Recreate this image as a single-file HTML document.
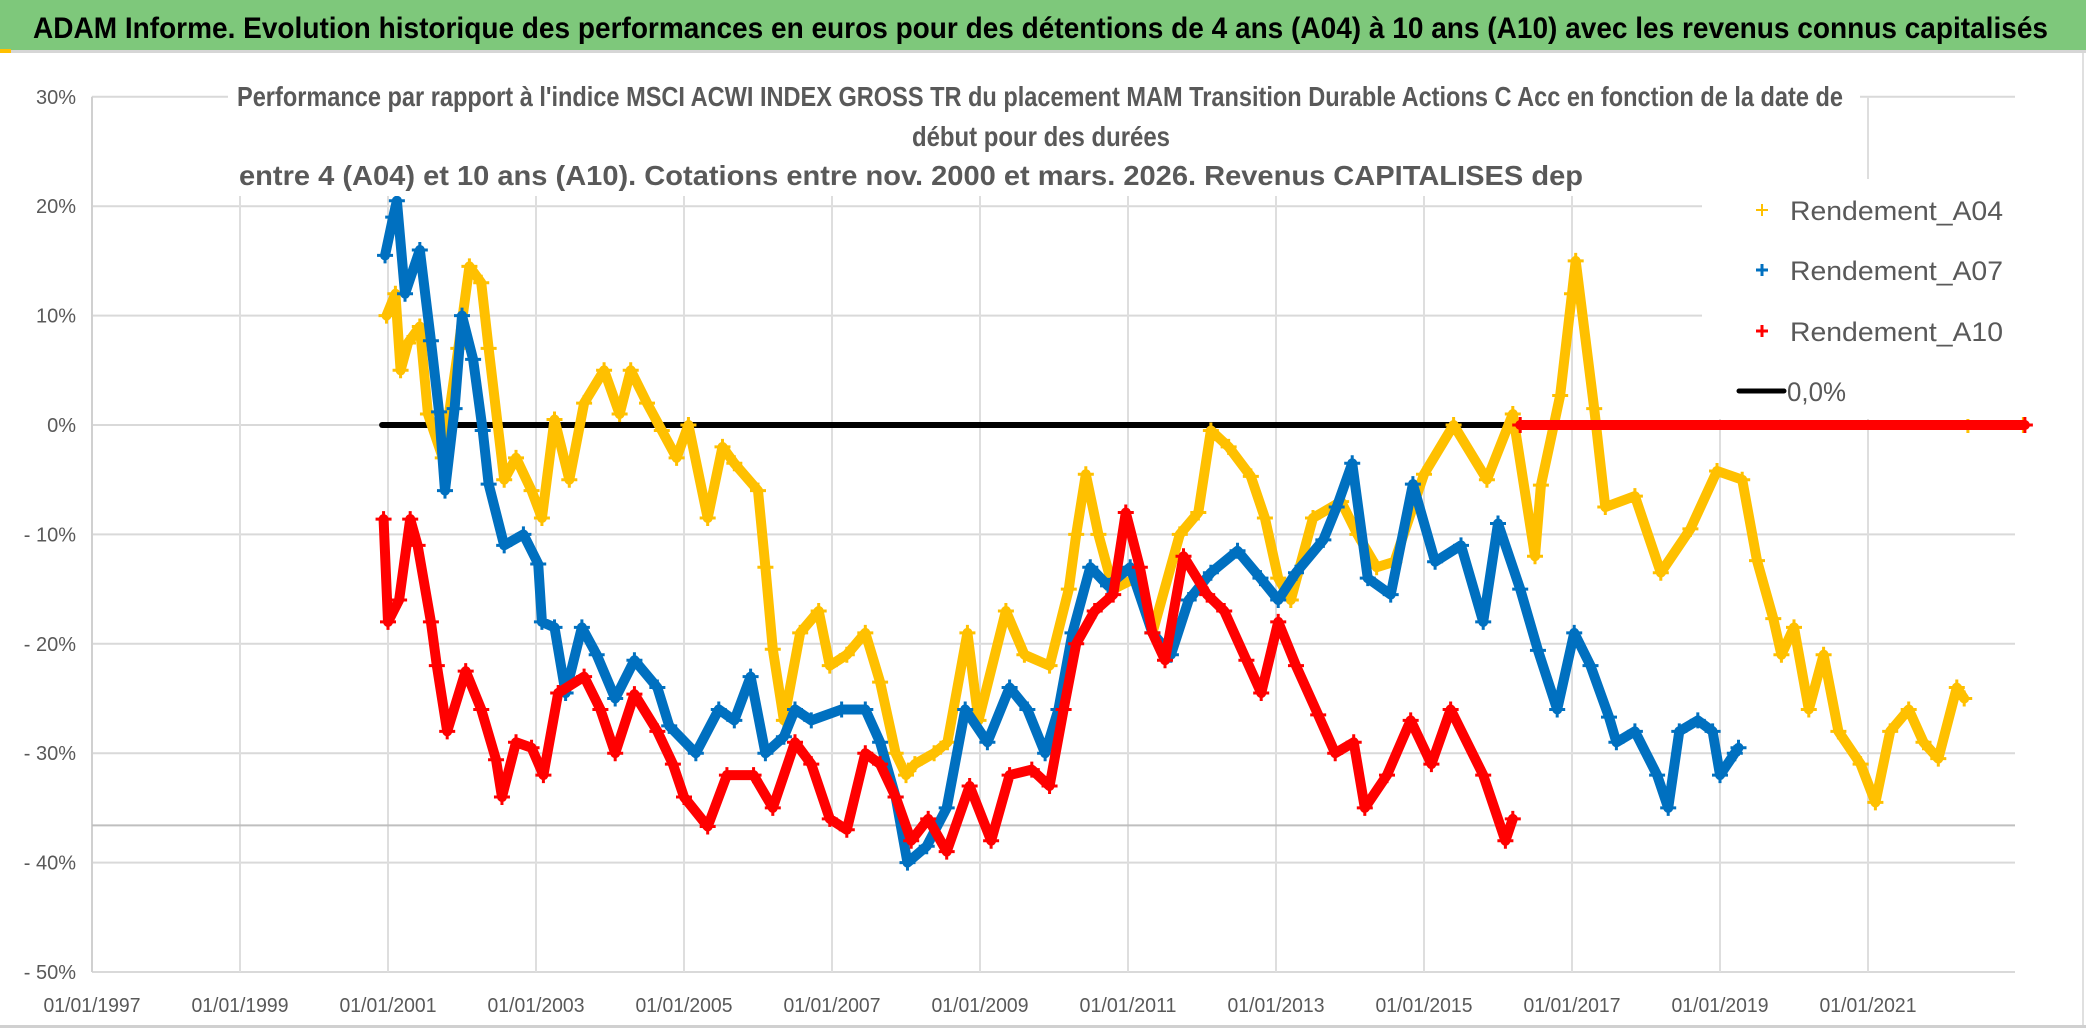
<!DOCTYPE html>
<html><head><meta charset="utf-8"><style>
html,body{margin:0;padding:0;background:#fff;}
svg{display:block;font-family:"Liberation Sans",sans-serif;}
</style></head><body>
<svg id="chart" width="2086" height="1031" viewBox="0 0 2086 1031">
<rect x="0" y="0" width="2086" height="1031" fill="#fff"/>
<rect x="0" y="0" width="2086" height="50" fill="#7ec87b"/>
<rect x="0" y="50" width="2086" height="3" fill="#d6d6d6"/>
<rect x="0" y="49" width="11" height="4" fill="#ffc000"/>
<text x="33" y="38" font-size="30" font-weight="bold" fill="#000" textLength="2015" lengthAdjust="spacingAndGlyphs">ADAM Informe. Evolution historique des performances en euros pour des détentions de 4 ans (A04) à 10 ans (A10) avec les revenus connus capitalisés</text>
<g id="grid"></g>
<g id="plot"></g>
<rect x="228" y="60" width="1632" height="136" fill="#fff"/>
<g fill="#595959" font-weight="bold" font-size="28">
<text x="237" y="106" textLength="1606" lengthAdjust="spacingAndGlyphs">Performance par rapport à l'indice MSCI ACWI INDEX GROSS TR  du placement MAM Transition Durable Actions C Acc en fonction de la date de</text>
<text x="912" y="146" textLength="258" lengthAdjust="spacingAndGlyphs">début pour des durées</text>
<text x="239" y="185" textLength="1344" lengthAdjust="spacingAndGlyphs">entre 4 (A04) et 10 ans (A10). Cotations entre nov. 2000 et mars. 2026. Revenus CAPITALISES dep</text>
</g>
<rect x="1702" y="179" width="313" height="240" fill="#fff"/>
<g font-size="27" fill="#595959">
<g>
<path d="M1756 210h12M1762 204v12" stroke="#ffc000" stroke-width="2"/>
<text x="1790" y="220" textLength="213" lengthAdjust="spacingAndGlyphs">Rendement_A04</text></g>
<g>
<path d="M1756 270h12M1762 264v12" stroke="#0070c0" stroke-width="3"/>
<text x="1790" y="280" textLength="213" lengthAdjust="spacingAndGlyphs">Rendement_A07</text></g>
<g>
<path d="M1756 331h12M1762 325v12" stroke="#ff0000" stroke-width="3"/>
<text x="1790" y="341" textLength="213" lengthAdjust="spacingAndGlyphs">Rendement_A10</text></g>
<g>
<line x1="1739" y1="391" x2="1784" y2="391" stroke="#000" stroke-width="5" stroke-linecap="round"/>
<text x="1787" y="401" textLength="59" lengthAdjust="spacingAndGlyphs">0,0%</text></g>
</g>
<rect x="0" y="1025" width="2086" height="3" fill="#d0d0d0"/>
<rect x="2082" y="53" width="2" height="972" fill="#e0e0e0"/>
</svg>
<script>
const yTicks = [30, 20, 10, 0, -10, -20, -30, -40, -50];
const yTickLabels = ["30%", "20%", "10%", "0%", "- 10%", "- 20%", "- 30%", "- 40%", "- 50%"];
const xTicks = [1997, 1999, 2001, 2003, 2005, 2007, 2009, 2011, 2013, 2015, 2017, 2019, 2021];
const xTickLabels = ["01/01/1997","01/01/1999","01/01/2001","01/01/2003","01/01/2005","01/01/2007","01/01/2009","01/01/2011","01/01/2013","01/01/2015","01/01/2017","01/01/2019","01/01/2021"];
const zeroLine = [2000.92, 2023.1];
const axisCross = -36.6;

const a04Dates = [2000.98,2001.1,2001.17,2001.27,2001.43,2001.54,2001.74,2001.95,2002.1,2002.26,2002.36,2002.57,2002.73,2002.94,2003.08,2003.25,2003.45,2003.65,2003.92,2004.13,2004.28,2004.5,2004.7,2004.9,2005.06,2005.32,2005.52,2005.68,2006.0,2006.1,2006.2,2006.35,2006.57,2006.82,2006.97,2007.2,2007.45,2007.65,2007.86,2008.0,2008.12,2008.38,2008.56,2008.83,2008.98,2009.35,2009.6,2009.94,2010.2,2010.3,2010.43,2010.6,2010.8,2011.1,2011.33,2011.7,2011.95,2012.12,2012.36,2012.66,2012.85,2013.03,2013.2,2013.5,2013.88,2014.1,2014.36,2014.6,2015.0,2015.4,2015.85,2016.2,2016.5,2016.58,2016.84,2017.0,2017.05,2017.3,2017.45,2017.85,2018.2,2018.6,2018.96,2019.3,2019.5,2019.72,2019.83,2020.0,2020.2,2020.4,2020.6,2020.9,2021.1,2021.3,2021.55,2021.75,2021.95,2022.2,2022.3,2022.32,2022.35,2023.1];
const a04Values = [10,12,5,7.5,9,1,-3,7,14.5,13,7,-5,-3,-6,-8.5,0.5,-5,2,5,1,5,2,-0.5,-3,0,-8.5,-2,-3.5,-6,-13,-20.5,-27,-19,-17,-22,-21,-19,-23.5,-30,-32,-31,-30,-29,-19,-27,-17,-21,-22,-15,-10,-4.5,-10,-15,-14,-19,-10,-8,-0.5,-2,-4.7,-8.5,-14,-16,-8.5,-7,-10,-13,-12.5,-4.5,0,-5,1,-12,-5.5,2.7,12,15,1.5,-7.5,-6.5,-13.5,-9.5,-4.2,-5,-12.4,-17.7,-21,-18.5,-26,-21,-28,-31,-34.5,-28,-26,-29,-30.5,-24,-25,null,0,0];

const a07Dates = [2000.96,2001.07,2001.12,2001.23,2001.43,2001.58,2001.69,2001.77,2001.9,2002.0,2002.15,2002.28,2002.36,2002.57,2002.83,2003.03,2003.08,2003.25,2003.4,2003.62,2003.82,2004.07,2004.33,2004.64,2004.8,2005.16,2005.47,2005.68,2005.9,2006.1,2006.35,2006.5,2006.72,2007.13,2007.45,2007.65,2007.86,2008.02,2008.28,2008.55,2008.8,2009.1,2009.4,2009.64,2009.88,2010.06,2010.25,2010.49,2010.73,2011.03,2011.33,2011.58,2011.82,2012.12,2012.48,2012.79,2013.03,2013.27,2013.64,2013.82,2014.03,2014.24,2014.55,2014.85,2015.15,2015.5,2015.8,2016.0,2016.3,2016.54,2016.8,2017.03,2017.25,2017.5,2017.6,2017.85,2018.15,2018.3,2018.45,2018.7,2018.9,2019.0,2019.2,2019.25];
const a07Values = [15.5,19,20.5,12,16,7.7,1.2,-6,1.5,10,6,-0.5,-5.4,-11,-10,-12.7,-18,-18.5,-24.5,-18.5,-21,-25,-21.5,-24,-27.5,-30,-26,-27,-23,-30,-28.5,-26,-27,-26,-26,-29,-34,-40,-38.5,-35,-26,-29,-24,-26,-30,-26,-19,-13,-14.7,-13,-19,-21,-16,-13.5,-11.5,-14,-16,-13.5,-10.5,-7.5,-3.5,-14,-15.5,-5.4,-12.5,-11,-18,-9,-15,-20.6,-26,-19,-22,-26.7,-29,-28,-32,-35,-28,-27,-28,-32,-30,-29.5];

const a10Dates = [2000.94,2001.0,2001.15,2001.3,2001.4,2001.58,2001.66,2001.8,2002.05,2002.26,2002.46,2002.54,2002.73,2002.94,2003.1,2003.3,2003.65,2003.87,2004.07,2004.33,2004.64,2004.85,2005.0,2005.32,2005.58,2005.94,2006.2,2006.5,2006.72,2006.97,2007.2,2007.45,2007.65,2007.86,2008.07,2008.3,2008.55,2008.86,2009.15,2009.4,2009.7,2009.94,2010.13,2010.3,2010.55,2010.8,2010.97,2011.16,2011.33,2011.5,2011.75,2012.07,2012.3,2012.6,2012.8,2013.03,2013.27,2013.57,2013.8,2014.05,2014.2,2014.5,2014.82,2015.1,2015.36,2015.8,2016.1,2016.2,2016.25,2016.3,2023.12];
const a10Values = [-8.6,-18,-16,-8.6,-11,-18,-22,-28,-22.5,-26,-30.6,-34,-29,-29.5,-32,-24.5,-23,-26,-30,-24.6,-28,-31,-34,-36.7,-32,-32,-35,-29,-31,-36,-37,-30,-31,-34,-38,-36,-39,-33,-38,-32,-31.5,-33,-26,-20,-17,-15.5,-8,-13,-19,-21.5,-12,-15.5,-17,-21.5,-24.5,-18,-22,-26.5,-30,-29,-35,-32,-27,-31,-26,-32,-38,-36,null,0,0];

const X0 = 92, X1 = 2015, PX_PER_YEAR = 74.0;
const Y0 = 425, PX_PER_PCT = 10.94;
function xOf(year){ return X0 + (year - 1997) * PX_PER_YEAR; }
function yOf(v){ return Y0 - v * PX_PER_PCT; }
const NS = "http://www.w3.org/2000/svg";
function mk(tag, attrs, parent){ const e = document.createElementNS(NS, tag); for (const k in attrs) e.setAttribute(k, attrs[k]); parent.appendChild(e); return e; }

const grid = document.getElementById('grid');
const plot = document.getElementById('plot');

yTicks.forEach((t, i) => {
  const ln = mk('line', {x1: X0, x2: X1, y1: yOf(t), y2: yOf(t), stroke: '#d9d9d9', 'stroke-width': 2}, grid);
  
  
  const tx = mk('text', {x: 76, y: yOf(t) + 7, 'text-anchor': 'end', 'font-size': 20, fill: '#595959'}, grid);
  tx.textContent = yTickLabels[i];
  
  
});
xTicks.forEach((t, i) => {
  const x = xOf(t);
  const ln = mk('line', {x1: x, x2: x, y1: yOf(30), y2: yOf(-50), stroke: i === 0 ? '#d0d0d0' : '#dedede', 'stroke-width': 2}, grid);
  
  
  const tx = mk('text', {x: x, y: 1012, 'text-anchor': 'middle', 'font-size': 20, fill: '#595959', textLength: 97, lengthAdjust: 'spacingAndGlyphs'}, grid);
  tx.textContent = xTickLabels[i];
  
  
});
const ax = mk('line', {x1: X0, x2: X1, y1: yOf(axisCross), y2: yOf(axisCross), stroke: '#bfbfbf', 'stroke-width': 2}, grid);



const zl = mk('line', {x1: xOf(zeroLine[0]), x2: xOf(zeroLine[1]), y1: yOf(0), y2: yOf(0), stroke: '#000', 'stroke-width': 6, 'stroke-linecap': 'round'}, plot);



function drawSeries(dates, values, color, name, sw, msize){
  const g = mk('g', {}, plot);
  
  
  let seg = [];
  const segs = [];
  dates.forEach((d, i) => {
    if (values[i] === null) { if (seg.length) segs.push(seg); seg = []; return; }
    seg.push([xOf(d), yOf(values[i])]);
  });
  if (seg.length) segs.push(seg);
  segs.forEach(s => {
    const pl = mk('polyline', {points: s.map(p => p.join(',')).join(' '), fill: 'none', stroke: color, 'stroke-width': sw, 'stroke-linejoin': 'round', 'stroke-linecap': 'round'}, g);
    
    
  });
  dates.forEach((d, i) => {
    if (values[i] === null) return;
    const x = xOf(d), y = yOf(values[i]);
    const m = mk('path', {d: `M${x-msize} ${y}h${2*msize}M${x} ${y-msize}v${2*msize}`, stroke: color, 'stroke-width': 3}, g);
    
    
  });
}
drawSeries(a04Dates, a04Values, '#ffc000', 'series-a04', 10, 8);
drawSeries(a07Dates, a07Values, '#0070c0', 'series-a07', 10, 8);
drawSeries(a10Dates, a10Values, '#ff0000', 'series-a10', 10, 8);
</script>
</body></html>
